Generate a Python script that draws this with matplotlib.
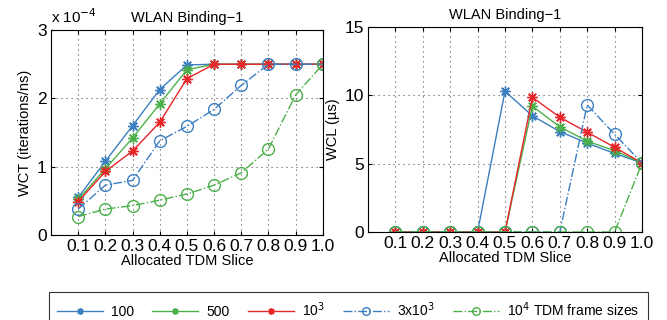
import matplotlib
matplotlib.use('Agg')
import matplotlib.pyplot as plt
from matplotlib.ticker import FuncFormatter

plt.rcParams['font.family'] = ['Liberation Sans', 'DejaVu Sans']

slices = [0.1, 0.2, 0.3, 0.4, 0.5, 0.6, 0.7, 0.8, 0.9, 1.0]
tick_labels = ['0.1', '0.2', '0.3', '0.4', '0.5', '0.6', '0.7', '0.8', '0.9', '1.0']

# WCT in iterations/ns
wct_100 = [0.55e-4, 1.08e-4, 1.60e-4, 2.13e-4, 2.49e-4, 2.5e-4, 2.5e-4, 2.5e-4, 2.5e-4, 2.5e-4]
wct_500 = [0.52e-4, 0.97e-4, 1.42e-4, 1.92e-4, 2.42e-4, 2.5e-4, 2.5e-4, 2.5e-4, 2.5e-4, 2.5e-4]
wct_1e3 = [0.49e-4, 0.93e-4, 1.23e-4, 1.65e-4, 2.29e-4, 2.5e-4, 2.5e-4, 2.5e-4, 2.5e-4, 2.5e-4]
wct_3e3 = [0.38e-4, 0.73e-4, 0.80e-4, 1.38e-4, 1.59e-4, 1.84e-4, 2.19e-4, 2.5e-4, 2.5e-4, 2.5e-4]
wct_1e4 = [0.27e-4, 0.38e-4, 0.43e-4, 0.51e-4, 0.60e-4, 0.73e-4, 0.91e-4, 1.26e-4, 2.05e-4, 2.5e-4]

# WCL in us
wcl_100 = [0, 0, 0, 0, 10.3, 8.5, 7.35, 6.5, 5.75, 5.05]
wcl_500 = [0, 0, 0, 0, 0, 9.2, 7.7, 6.65, 5.95, 5.05]
wcl_1e3 = [0, 0, 0, 0, 0, 9.85, 8.4, 7.3, 6.2, 5.05]
wcl_3e3 = [0, 0, 0, 0, 0, 0, 0, 9.3, 7.15, 5.05]
wcl_1e4 = [0, 0, 0, 0, 0, 0, 0, 0, 0, 5.05]

names = ['100', '500', '10$^3$', '3x10$^3$', '10$^4$ TDM frame sizes']
colors = ['#3b7fc1', '#4cb04a', '#e8262a', '#3b7fc1', '#4cb04a']
styles = ['-', '-', '-', '-.', '-.']
markers = [(8, 2, 0), (8, 2, 0), (8, 2, 0), 'o', 'o']

fig = plt.figure(figsize=(6.67, 3.2), dpi=100)
ax1 = fig.add_axes([0.0765, 0.2656, 0.4075, 0.6404])
ax2 = fig.add_axes([0.5517, 0.275, 0.4108, 0.6406])

def draw(ax, series):
    lines = []
    for y, c, ls, m, n in zip(series, colors, styles, markers, names):
        ms = 8.5 if m == 'o' else 7.5
        l, = ax.plot(slices, y, color=c, linestyle=ls, marker=m, markersize=ms,
                     markerfacecolor='none', markeredgecolor=c, markeredgewidth=1.0,
                     linewidth=1.0, label=n)
        lines.append(l)
    ax.set_xlim(0, 1.0)
    ax.set_xticks(slices)
    ax.set_xticklabels(tick_labels)
    ax.grid(True, linestyle=(0, (1, 3.5)), color='#555555', linewidth=0.8)
    ax.tick_params(direction='in', top=True, right=True, labelsize=12.5, length=3, pad=3)
    ax.set_xlabel('Allocated TDM Slice', fontsize=10.5, labelpad=0)
    return lines

lines = draw(ax1, [wct_100, wct_500, wct_1e3, wct_3e3, wct_1e4])
ax1.set_ylim(0, 3e-4)
ax1.set_yticks([0, 1e-4, 2e-4, 3e-4])
ax1.yaxis.set_major_formatter(FuncFormatter(lambda v, p: '%d' % round(v * 1e4)))
ax1.text(0.0, 1.02, 'x 10$^{-4}$', transform=ax1.transAxes, fontsize=11, ha='left', va='bottom')
ax1.set_ylabel('WCT (iterations/ns)', fontsize=10.5, labelpad=4)
ax1.set_title('WLAN Binding\u22121', fontsize=10.5, pad=6)

draw(ax2, [wcl_100, wcl_500, wcl_1e3, wcl_3e3, wcl_1e4])
ax2.set_ylim(0, 15)
ax2.set_yticks([0, 5, 10, 15])
ax2.set_ylabel('WCL (\u00b5s)', fontsize=10.5, labelpad=3)
ax2.set_title('WLAN Binding\u22121', fontsize=10.5, pad=6)

leg = fig.legend(handles=lines, loc='upper center', bbox_to_anchor=(0.522, 1 - 285 / 320),
                 ncol=5, fontsize=10, frameon=True, fancybox=False, edgecolor='black',
                 handlelength=3.3, columnspacing=1.3, handletextpad=0.6, borderpad=0.6,
                 markerscale=0.65)
leg.get_frame().set_linewidth(0.8)

fig.savefig('out.png', dpi=100)
